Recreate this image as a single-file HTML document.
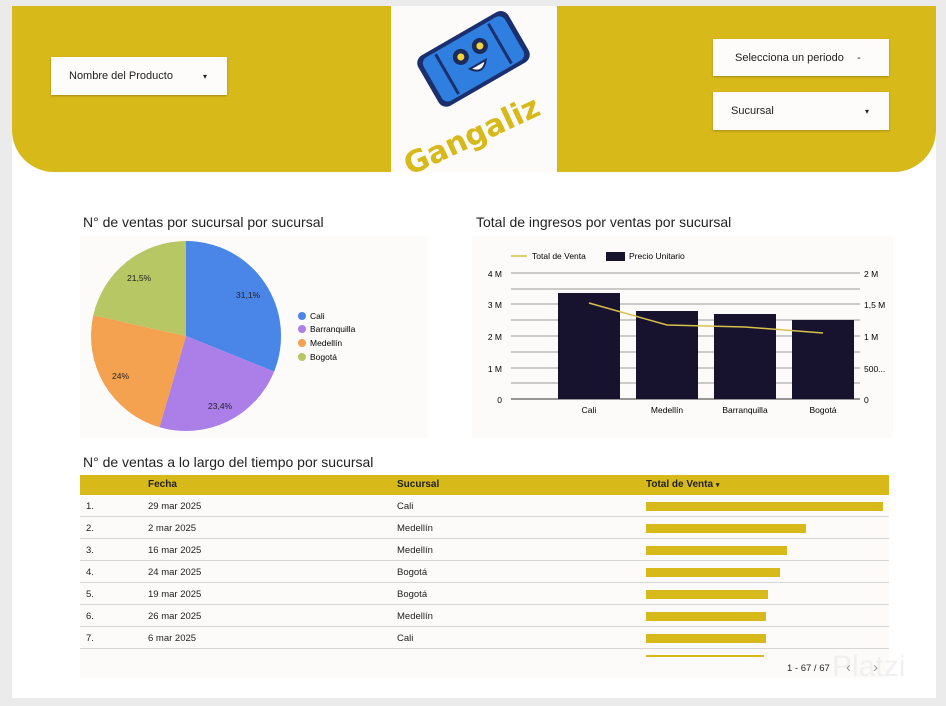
<!DOCTYPE html>
<html><head><meta charset="utf-8"><style>
*{margin:0;padding:0;box-sizing:border-box}
body{width:946px;height:706px;background:#ebebeb;font-family:"Liberation Sans",sans-serif;position:relative;overflow:hidden;color:#222}
.abs{position:absolute}
.panel{left:12px;top:6px;width:924px;height:692px;background:#fff}
.hdr{left:12px;top:6px;width:924px;height:166px;background:#d8b91a;border-radius:0 0 42px 42px}
.dd{background:#fdfcfa;font-size:11px;box-shadow:0 1px 2px rgba(0,0,0,.25);display:flex;align-items:center}
.title{font-size:14px;color:#222}
.row{position:absolute;left:80px;width:809px;height:22px;border-bottom:1px solid #d6d6d6;font-size:9.5px;background:#fcfbf9}
.row span{position:absolute;top:6px}
.row i{position:absolute;left:566px;top:7px;height:9px;background:#d8b91a}
</style></head><body>
<div class="abs panel"></div>
<div class="abs hdr"></div>
<div class="abs" style="left:391px;top:6px;width:166px;height:166px;background:#fcfbf9"></div>
<svg class="abs" style="left:391px;top:6px" width="166" height="166">
<g transform="rotate(-30 82 52)">
<rect x="30" y="24" width="104" height="58" rx="9" fill="#1b2f6e"/>
<rect x="35" y="28" width="94" height="50" rx="7" fill="#2f7fe0"/>
<rect x="50" y="30" width="3" height="46" fill="#1b2f6e"/><rect x="111" y="30" width="3" height="46" fill="#1b2f6e"/>
<circle cx="72" cy="45" r="8" fill="#1b2a5a"/><circle cx="94" cy="45" r="8" fill="#1b2a5a"/>
<circle cx="72" cy="45" r="3.5" fill="#f2d33a"/><circle cx="94" cy="45" r="3.5" fill="#f2d33a"/>
<path d="M74 60 Q83 72 92 60 Z" fill="#fff" stroke="#1b2a5a" stroke-width="2"/>
</g>
<text x="80" y="140" text-anchor="middle" transform="rotate(-25 80 128)" font-family="DejaVu Sans" font-weight="bold" font-size="30" fill="#d8b91a">Gangaliz</text>
</svg>
<div class="abs dd" style="left:51px;top:57px;width:176px;height:38px;padding-left:18px">Nombre del Producto<span style="position:absolute;left:152px;font-size:8px">▾</span></div>
<div class="abs dd" style="left:713px;top:39px;width:176px;height:37px;padding-left:22px">Selecciona un periodo<span style="position:absolute;left:144px">-</span></div>
<div class="abs dd" style="left:713px;top:92px;width:176px;height:38px;padding-left:18px">Sucursal<span style="position:absolute;left:152px;font-size:8px">▾</span></div>

<div class="abs title" style="left:83px;top:214px">N° de ventas por sucursal por sucursal</div>
<div class="abs title" style="left:476px;top:214px">Total de ingresos por ventas por sucursal</div>
<div class="abs" style="left:80px;top:236px;width:348px;height:202px;background:#fcfbf9"></div>
<div class="abs" style="left:472px;top:236px;width:421px;height:202px;background:#fcfbf9"></div>
<svg class="abs" style="left:0;top:0" width="946" height="706" font-family="Liberation Sans" font-size="8.5">
<path d="M186 336 L186 241 A95 95 0 0 1 274.1 371.6 Z" fill="#4a86e8"/>
<path d="M186 336 L274.1 371.6 A95 95 0 0 1 159.5 427.2 Z" fill="#ab7ee8"/>
<path d="M186 336 L159.5 427.2 A95 95 0 0 1 93.3 315.3 Z" fill="#f4a150"/>
<path d="M186 336 L93.3 315.3 A95 95 0 0 1 186 241 Z" fill="#b6c764"/>
<g fill="#222"><text x="236" y="298">31,1%</text><text x="208" y="409">23,4%</text><text x="112" y="379">24%</text><text x="127" y="281">21,5%</text></g>
<circle cx="302" cy="316" r="4" fill="#4a86e8"/><text x="310" y="319">Cali</text>
<circle cx="302" cy="329" r="4" fill="#ab7ee8"/><text x="310" y="332">Barranquilla</text>
<circle cx="302" cy="343" r="4" fill="#f4a150"/><text x="310" y="346">Medellín</text>
<circle cx="302" cy="357" r="4" fill="#b6c764"/><text x="310" y="360">Bogotá</text>
<g stroke="#999" stroke-width="1">
<line x1="511" x2="860" y1="273" y2="273"/><line x1="511" x2="860" y1="289" y2="289"/><line x1="511" x2="860" y1="304" y2="304"/><line x1="511" x2="860" y1="320" y2="320"/><line x1="511" x2="860" y1="336" y2="336"/><line x1="511" x2="860" y1="352" y2="352"/><line x1="511" x2="860" y1="368" y2="368"/><line x1="511" x2="860" y1="383" y2="383"/></g>
<line x1="511" x2="860" y1="399" y2="399" stroke="#333"/>
<g fill="#17132f"><rect x="558" y="293" width="62" height="106"/><rect x="636" y="311" width="62" height="88"/><rect x="714" y="314" width="62" height="85"/><rect x="792" y="320" width="62" height="79"/></g>
<polyline points="589,303 667,325 745,327 823,333" fill="none" stroke="#d8c04a" stroke-width="1.5"/>
<line x1="511" x2="527" y1="256" y2="256" stroke="#d8c04a" stroke-width="1.5"/><text x="532" y="259">Total de Venta</text>
<rect x="606" y="252" width="19" height="9" fill="#17132f"/><text x="629" y="259">Precio Unitario</text>
<g text-anchor="end"><text x="502" y="277">4 M</text><text x="502" y="308">3 M</text><text x="502" y="340">2 M</text><text x="502" y="372">1 M</text><text x="502" y="403">0</text></g>
<g><text x="864" y="277">2 M</text><text x="864" y="308">1,5 M</text><text x="864" y="340">1 M</text><text x="864" y="372">500...</text><text x="864" y="403">0</text></g>
<g text-anchor="middle"><text x="589" y="413">Cali</text><text x="667" y="413">Medellín</text><text x="745" y="413">Barranquilla</text><text x="823" y="413">Bogotá</text></g>
</svg>

<div class="abs title" style="left:83px;top:454px">N° de ventas a lo largo del tiempo por sucursal</div>
<div class="abs" style="left:80px;top:475px;width:809px;height:203px;background:#fcfbf9"></div>
<div class="abs" style="left:80px;top:475px;width:809px;height:20px;background:#d8b91a;font-size:10px;font-weight:bold">
<span class="abs" style="left:68px;top:4px">Fecha</span><span class="abs" style="left:317px;top:4px">Sucursal</span><span class="abs" style="left:566px;top:4px">Total de Venta <small style="font-size:7px">▾</small></span></div>
<div class="row" style="top:495px"><span style="left:6px">1.</span><span style="left:68px">29 mar 2025</span><span style="left:317px">Cali</span><i style="width:237px"></i></div>
<div class="row" style="top:517px"><span style="left:6px">2.</span><span style="left:68px">2 mar 2025</span><span style="left:317px">Medellín</span><i style="width:160px"></i></div>
<div class="row" style="top:539px"><span style="left:6px">3.</span><span style="left:68px">16 mar 2025</span><span style="left:317px">Medellín</span><i style="width:141px"></i></div>
<div class="row" style="top:561px"><span style="left:6px">4.</span><span style="left:68px">24 mar 2025</span><span style="left:317px">Bogotá</span><i style="width:134px"></i></div>
<div class="row" style="top:583px"><span style="left:6px">5.</span><span style="left:68px">19 mar 2025</span><span style="left:317px">Bogotá</span><i style="width:122px"></i></div>
<div class="row" style="top:605px"><span style="left:6px">6.</span><span style="left:68px">26 mar 2025</span><span style="left:317px">Medellín</span><i style="width:120px"></i></div>
<div class="row" style="top:627px"><span style="left:6px">7.</span><span style="left:68px">6 mar 2025</span><span style="left:317px">Cali</span><i style="width:120px"></i></div>
<div class="abs" style="left:80px;top:649px;width:809px;height:8px;overflow:hidden;background:#fcfbf9"><i class="abs" style="left:566px;top:6px;width:118px;height:3px;background:#d8b91a"></i></div>
<div class="abs" style="left:832px;top:650px;font-size:30px;color:#f0f0f0">Platzi</div>
<div class="abs" style="left:787px;top:663px;font-size:9.5px">1 - 67 / 67</div>
<div class="abs" style="left:846px;top:659px;font-size:15px;color:#999">‹</div>
<div class="abs" style="left:873px;top:659px;font-size:15px;color:#999">›</div>
</body></html>
